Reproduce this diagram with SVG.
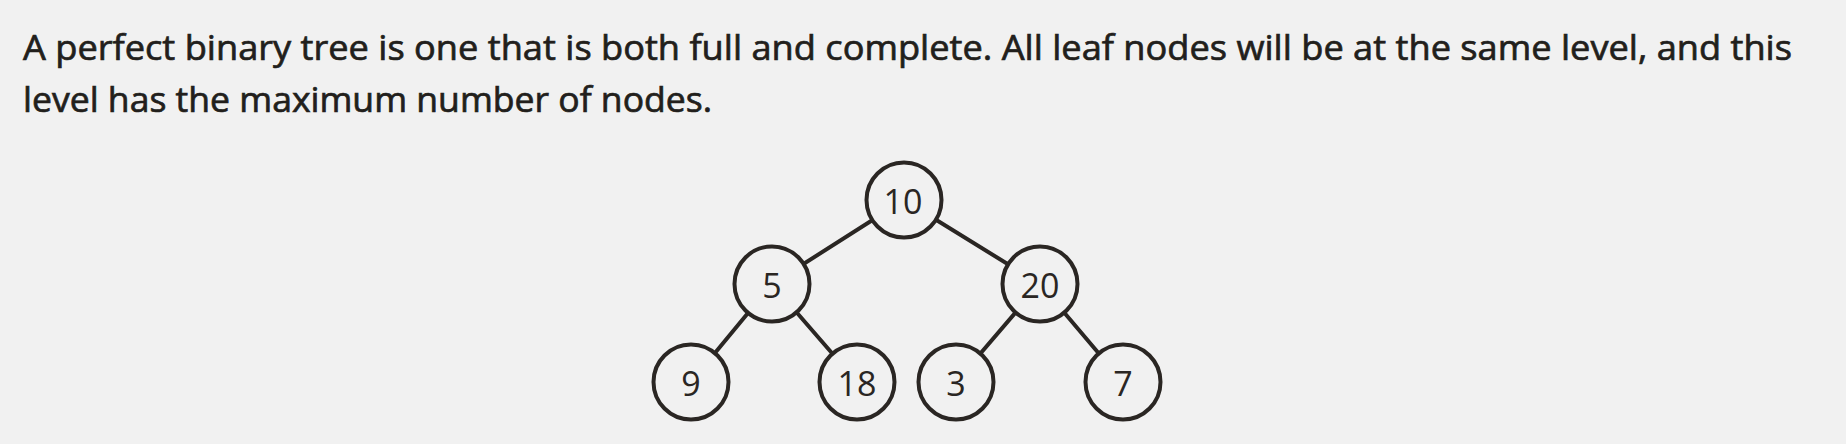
<svg xmlns="http://www.w3.org/2000/svg" width="1846" height="444" viewBox="0 0 1846 444">
<style>
.bg{fill:#f1f1f1}
.para{font-family:"Open Sans","Noto Sans","Liberation Sans",sans-serif;font-size:35px;fill:#221f1c;stroke:#221f1c;stroke-width:0.7}
.edge{stroke:#2a2623;stroke-width:4;stroke-linecap:round;fill:none}
.node circle{fill:#f1f1f1;stroke:#2a2623;stroke-width:4}
.node text{font-family:"Open Sans","Noto Sans","Liberation Sans",sans-serif;font-size:34px;fill:#2a2623;text-anchor:middle;dominant-baseline:central}
</style>
<rect class="bg" x="0" y="0" width="1846" height="444"/>
<g id="text">
<text class="para" x="23" y="60" textLength="1769" lengthAdjust="spacingAndGlyphs">A perfect binary tree is one that is both full and complete. All leaf nodes will be at the same level, and this</text>
<text class="para" x="23" y="112" textLength="689" lengthAdjust="spacingAndGlyphs">level has the maximum number of nodes.</text>
</g>
<g id="connectors">
<line class="edge" x1="904" y1="200" x2="772" y2="284"/>
<line class="edge" x1="904" y1="200" x2="1040" y2="284"/>
<line class="edge" x1="772" y1="284" x2="691" y2="382"/>
<line class="edge" x1="772" y1="284" x2="857" y2="382"/>
<line class="edge" x1="1040" y1="284" x2="956" y2="382"/>
<line class="edge" x1="1040" y1="284" x2="1123" y2="382"/>
</g>
<g id="node-10" class="node"><circle cx="904" cy="200" r="37.5"/><text x="903" y="201">10</text></g>
<g id="node-5" class="node"><circle cx="772" cy="284" r="37.5"/><text x="772" y="285">5</text></g>
<g id="node-20" class="node"><circle cx="1040" cy="284" r="37.5"/><text x="1040" y="285">20</text></g>
<g id="node-9" class="node"><circle cx="691" cy="382" r="37.5"/><text x="691" y="383">9</text></g>
<g id="node-18" class="node"><circle cx="857" cy="382" r="37.5"/><text x="857" y="383">18</text></g>
<g id="node-3" class="node"><circle cx="956" cy="382" r="37.5"/><text x="956" y="383">3</text></g>
<g id="node-7" class="node"><circle cx="1123" cy="382" r="37.5"/><text x="1123" y="383">7</text></g>
</svg>
